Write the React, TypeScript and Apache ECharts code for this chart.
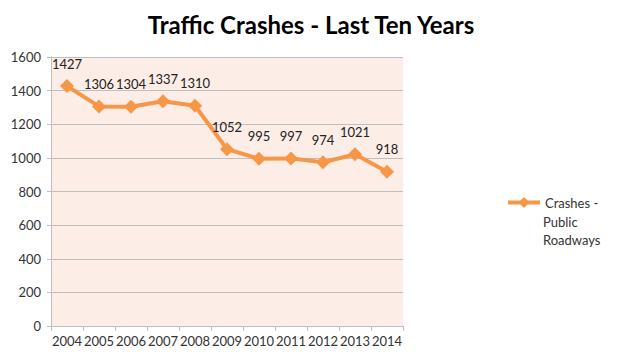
import React, { useEffect, useRef } from "react";
import * as echarts from "echarts";

const years = ["2004", "2005", "2006", "2007", "2008", "2009", "2010", "2011", "2012", "2013", "2014"];
const crashes = [1427, 1306, 1304, 1337, 1310, 1052, 995, 997, 974, 1021, 918];
const seriesName = "Crashes - Public Roadways";
const legendLines = ["Crashes -", "Public", "Roadways"];
const titleText = "Traffic Crashes - Last Ten Years";

export default function App() {
  const ref = useRef<HTMLDivElement>(null);
  useEffect(() => {
    const chart = echarts.init(ref.current!, null, { renderer: "svg" });
    const font = "Lato, 'Open Sans', sans-serif";
    chart.setOption({
      animation: false,
      backgroundColor: "#ffffff",
      textStyle: { fontFamily: font },
      title: {
        text: titleText,
        left: "center",
        top: 7,
        textStyle: { fontFamily: font, fontSize: 24, fontWeight: "bold", color: "#000" },
      },
      legend: {
        left: 501,
        top: 191,
        itemWidth: 32,
        itemHeight: 14,
        itemGap: 4,
        data: [seriesName],
        formatter: () => legendLines[0],
        lineStyle: { width: 4 },
        textStyle: { fontFamily: font, fontSize: 13, color: "#333" },
      },
      graphic: legendLines.slice(1).map((t, i) => ({
        type: "text",
        x: 543,
        y: 222 + i * 18,
        style: { text: t, fontFamily: font, fontSize: 13, fill: "#333", verticalAlign: "middle" },
      })),
      grid: {
        left: 51,
        right: 219,
        top: 57,
        bottom: 32,
        show: true,
        backgroundColor: "#FCEDE7",
        borderWidth: 0,
      },
      xAxis: {
        type: "category",
        data: years,
        boundaryGap: true,
        axisLine: { show: true, lineStyle: { color: "#BFBFBF", width: 1 } },
        axisTick: { show: true, length: 5, lineStyle: { color: "#BFBFBF" } },
        axisLabel: { color: "#333", fontSize: 13, margin: 8, interval: 0, fontFamily: font },
      },
      yAxis: {
        type: "value",
        min: 0,
        max: 1600,
        interval: 200,
        axisLine: { show: true, lineStyle: { color: "#BFBFBF" } },
        axisTick: { show: true, length: 4, lineStyle: { color: "#BFBFBF" } },
        axisLabel: { color: "#333", fontSize: 13, margin: 10, fontFamily: font, formatter: (v: number) => String(v) },
        splitLine: { show: true, lineStyle: { color: "#BFBFBF", width: 1 } },
      },
      series: [
        {
          name: seriesName,
          type: "line",
          data: crashes,
          symbol: "diamond",
          symbolSize: 14,
          lineStyle: { color: "#F79646", width: 4 },
          itemStyle: { color: "#F79646" },
          label: { show: true, position: "top", distance: 9, color: "#222", fontSize: 13, fontFamily: font },
        },
      ],
    });
    return () => chart.dispose();
  }, []);
  return <div ref={ref} style={{ position: "fixed", left: 0, top: 0, width: 622, height: 358 }} />;
}
